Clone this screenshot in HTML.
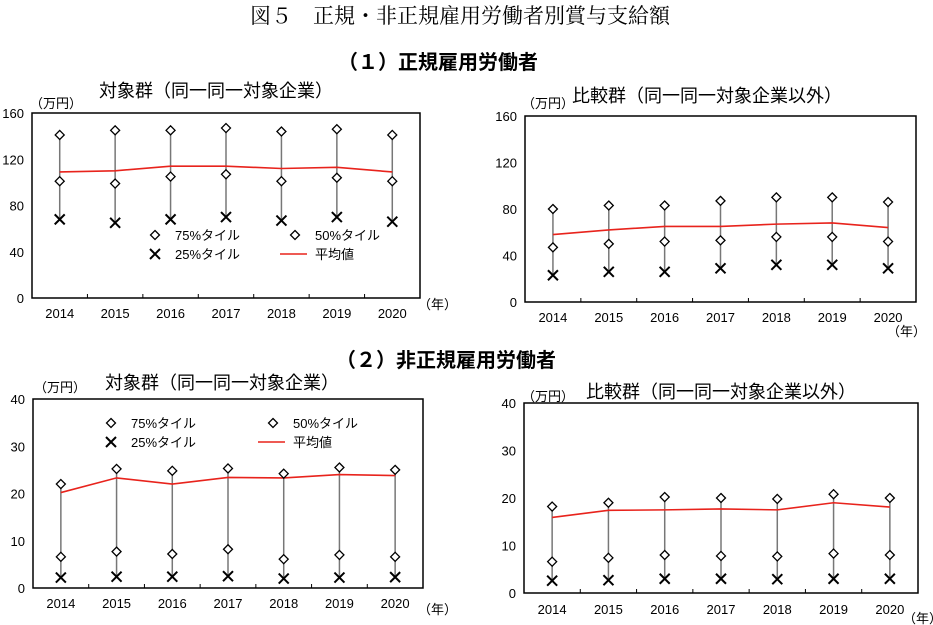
<!DOCTYPE html>
<html><head><meta charset="utf-8"><style>
body{margin:0;width:933px;height:625px;background:#fff;overflow:hidden;position:relative;font-family:"Liberation Sans","Noto Sans CJK JP",sans-serif;}
.t{position:absolute;white-space:nowrap;color:#000;}
svg{position:absolute;left:0;top:0;}
</style></head><body>
<div class="t" style="left:250px;top:0px;font-size:21px;font-family:'Liberation Serif','Noto Serif CJK SC',serif;">図５　正規・非正規雇用労働者別賞与支給額</div>
<div class="t" style="left:338px;top:46px;font-size:20px;font-weight:bold;">（１）正規雇用労働者</div>
<div class="t" style="left:336px;top:344px;font-size:20px;font-weight:bold;">（２）非正規雇用労働者</div>
<svg id="s" width="933" height="625"></svg>
<script>
const years=["2014","2015","2016","2017","2018","2019","2020"];
const c1p75=[141,145,145,147,144,146,141];
const c1p50=[101,99,105,107,101,104,101];
const c1p25=[68,65,68,70,67,70,66];
const c1mean=[109,110,114,114,112,113,109];
const c2p75=[80,83,83,87,90,90,86];
const c2p50=[47,50,52,53,56,56,52];
const c2p25=[23,26,26,29,32,32,29];
const c2mean=[58,62,65,65,67,68,64];
const c3p75=[22,25.2,24.8,25.3,24.2,25.5,25];
const c3p50=[6.6,7.7,7.2,8.2,6.1,7,6.6];
const c3p25=[2.2,2.4,2.4,2.5,2,2.2,2.3];
const c3mean=[20.2,23.3,22,23.4,23.3,24,23.8];
const c4p75=[18.2,19,20.2,20,19.8,20.8,20];
const c4p50=[6.6,7.4,8,7.8,7.7,8.3,8];
const c4p25=[2.6,2.7,3,3,2.9,3,3];
const c4mean=[15.9,17.4,17.5,17.7,17.5,19,18.1];
const ticksA=[0,40,80,120,160];
const ticksB=[0,10,20,30,40];
const svg=document.getElementById('s');
const NS='http://www.w3.org/2000/svg';
function el(tag,attrs,parent){const e=document.createElementNS(NS,tag);for(const k in attrs)e.setAttribute(k,attrs[k]);(parent||svg).appendChild(e);return e;}
function txt(x,y,s,size,anchor,parent){const e=el('text',{x:x,y:y,'font-size':size,'text-anchor':anchor||'start','font-family':'"Liberation Sans","Noto Sans CJK JP",sans-serif'},parent);e.textContent=s;return e;}
function diamond(x,y,g){const r=4.5;return el('polygon',{points:`${x},${y-r} ${x+r},${y} ${x},${y+r} ${x-r},${y}`,fill:'#fff',stroke:'#000','stroke-width':1.3},g);}
function cross(x,y,g){const r=5;el('path',{d:`M${x-r},${y-r}L${x+r},${y+r}M${x+r},${y-r}L${x-r},${y+r}`,stroke:'#000','stroke-width':2},g);}
function chart(o){
  const g=el('g',{});
  
  
  const {L,R,T,B,max,ticks}=o;
  const n=years.length, bw=(R-L)/n;
  const xs=i=>L+bw*(i+0.5);
  const ys=v=>B-(v/max)*(B-T);
  el('rect',{x:L,y:T,width:R-L,height:B-T,fill:'#fff',stroke:'#000','stroke-width':1.5},g);
  for(let i=1;i<n;i++)el('line',{x1:L+bw*i,x2:L+bw*i,y1:B,y2:B-4,stroke:'#000'},g);
  ticks.forEach(t=>{const e=txt(L-8,ys(t)+5,String(t),13,'end',g);});
  years.forEach((y,i)=>{const e=txt(xs(i),o.xl,y,13,'middle',g);});
  for(let i=0;i<n;i++){const w=el('line',{x1:xs(i),x2:xs(i),y1:ys(o.p75[i]),y2:ys(o.p25[i]),stroke:'#777','stroke-width':1.5},g);}
  const pl=el('polyline',{points:o.mean.map((v,i)=>xs(i)+','+ys(v)).join(' '),fill:'none',stroke:'#e8231c','stroke-width':1.6},g);
  
  for(let i=0;i<n;i++){
    const a=diamond(xs(i),ys(o.p75[i]),g);
    const b=diamond(xs(i),ys(o.p50[i]),g);
    cross(xs(i),ys(o.p25[i]),g);
  }
  const t=txt(o.tx,o.ty,o.title,18,'start',g);
  const u=txt(o.ux,o.uy,'（万円）',13,'start',g);
  const yr=txt(o.nx,o.ny,'（年）',13,'start',g);
  if(o.leg){
    const [lx,ly]=o.leg;const lg=el('g',{},g);
    
    diamond(lx,ly,lg);txt(lx+20,ly+5,'75%タイル',13,'start',lg);
    diamond(lx+o.lgap,ly,lg);txt(lx+o.lgap+20,ly+5,'50%タイル',13,'start',lg);
    cross(lx,ly+19,lg);txt(lx+20,ly+24,'25%タイル',13,'start',lg);
    el('line',{x1:lx+o.lgap-15,x2:lx+o.lgap+12,y1:ly+19,y2:ly+19,stroke:'#e8231c','stroke-width':1.6},lg);
    txt(lx+o.lgap+20,ly+24,'平均値',13,'start',lg);
  }
}
chart({name:'chart-regular-target',L:32,R:420,T:113,B:298,max:160,ticks:ticksA,xl:318,p75:c1p75,p50:c1p50,p25:c1p25,mean:c1mean,title:'対象群（同一同一対象企業）',tx:99,ty:97,ux:30,uy:108,nx:418,ny:309,leg:[155,235],lgap:140});
chart({name:'chart-regular-comparison',L:525,R:916,T:116,B:302,max:160,ticks:ticksA,xl:322,p75:c2p75,p50:c2p50,p25:c2p25,mean:c2mean,title:'比較群（同一同一対象企業以外）',tx:572,ty:102,ux:522,uy:108,nx:887,ny:336});
chart({name:'chart-nonregular-target',L:33,R:423,T:399,B:588,max:40,ticks:ticksB,xl:608,p75:c3p75,p50:c3p50,p25:c3p25,mean:c3mean,title:'対象群（同一同一対象企業）',tx:105,ty:389,ux:34,uy:392,nx:418,ny:614,leg:[111,423],lgap:162});
chart({name:'chart-nonregular-comparison',L:524,R:918,T:403,B:593,max:40,ticks:ticksB,xl:614,p75:c4p75,p50:c4p50,p25:c4p25,mean:c4mean,title:'比較群（同一同一対象企業以外）',tx:586,ty:398,ux:522,uy:401,nx:903,ny:623});
</script>
</body></html>
